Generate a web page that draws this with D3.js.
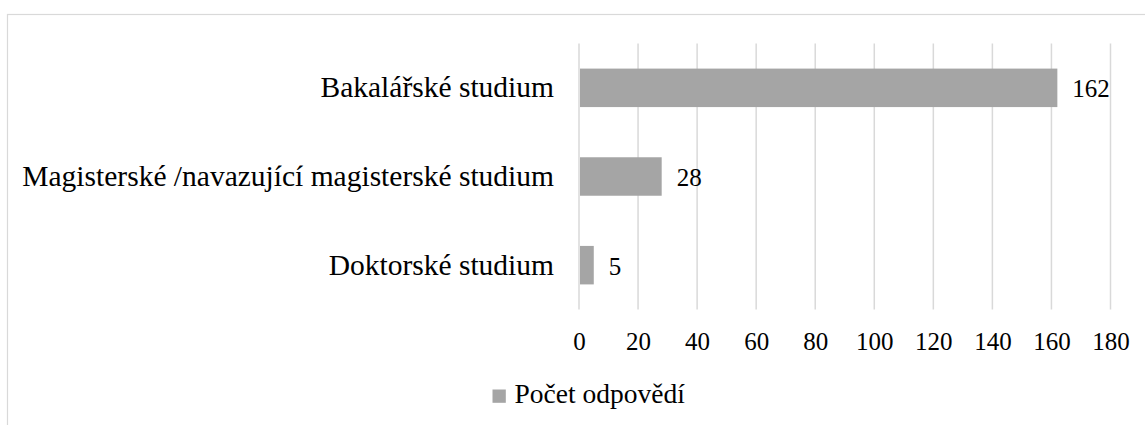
<!DOCTYPE html>
<html>
<head>
<meta charset="utf-8">
<script src="https://cdn.jsdelivr.net/npm/d3@7"></script>
<style>
html,body{margin:0;padding:0;background:#fff;}
svg{display:block;}
svg text{font-family:"Times New Roman","Liberation Serif",Tinos,"Nimbus Roman",serif !important;fill:#000;}
</style>
</head>
<body>
<svg id="chart" width="1145" height="425"></svg>
<script>
const categories = ["Bakalářské studium", "Magisterské /navazující magisterské studium", "Doktorské studium"];
const values = [162, 28, 5];
const tickValues = [0, 20, 40, 60, 80, 100, 120, 140, 160, 180];
const seriesName = "Počet odpovědí";

const FONT = "'Times New Roman','Liberation Serif',serif";
const svg = d3.select("#chart");

// outer chart border
svg.append("rect")
  .attr("x", 7.5).attr("y", 14.5)
  .attr("width", 1160).attr("height", 430)
  .attr("fill", "none").attr("stroke", "#d9d9d9").attr("stroke-width", 1.2);

const x = d3.scaleLinear().domain([0, 180]).range([579, 1110.5]);
const y = d3.scaleBand().domain(categories).range([43.5, 309.5]).paddingInner(0.566).paddingOuter(0.283);

// gridlines
svg.append("g").selectAll("line").data(tickValues).join("line")
  .attr("x1", d => x(d)).attr("x2", d => x(d))
  .attr("y1", 43.5).attr("y2", 309.5)
  .attr("stroke", "#d9d9d9").attr("stroke-width", 1.5);

// x-axis tick labels
const xAxis = d3.axisBottom(x).tickValues(tickValues).tickSize(0).tickPadding(0);
const gx = svg.append("g").call(xAxis).attr("font-family", FONT);
gx.select(".domain").remove();
gx.selectAll("text")
  .attr("y", 350).attr("dy", null)
  .attr("font-size", 25)
  .attr("fill", "#000");

// category labels
svg.append("g").attr("font-family", FONT).selectAll("text").data(categories).join("text")
  .attr("x", 554)
  .attr("y", d => y(d) + y.bandwidth() / 2 + 9.5)
  .attr("text-anchor", "end")
  .attr("font-size", 29.5)
  .text(d => d);

// bars
svg.append("g").selectAll("rect").data(values).join("rect")
  .attr("x", x(0) + 1)
  .attr("y", (d, i) => y(categories[i]))
  .attr("width", d => x(d) - x(0) - 1)
  .attr("height", y.bandwidth())
  .attr("fill", "#a5a5a5");

// value labels
svg.append("g").attr("font-family", FONT).selectAll("text").data(values).join("text")
  .attr("x", d => x(d) + 15)
  .attr("y", (d, i) => y(categories[i]) + y.bandwidth() / 2 + 9.5)
  .attr("font-size", 25)
  .text(d => d);

// legend
const lg = svg.append("g").attr("font-family", FONT);
lg.append("rect").attr("x", 492.5).attr("y", 389.5).attr("width", 13.3).attr("height", 13.3).attr("fill", "#a5a5a5");
lg.append("text").attr("x", 514.5).attr("y", 403).attr("font-size", 27.5).text(seriesName);
</script>
</body>
</html>
